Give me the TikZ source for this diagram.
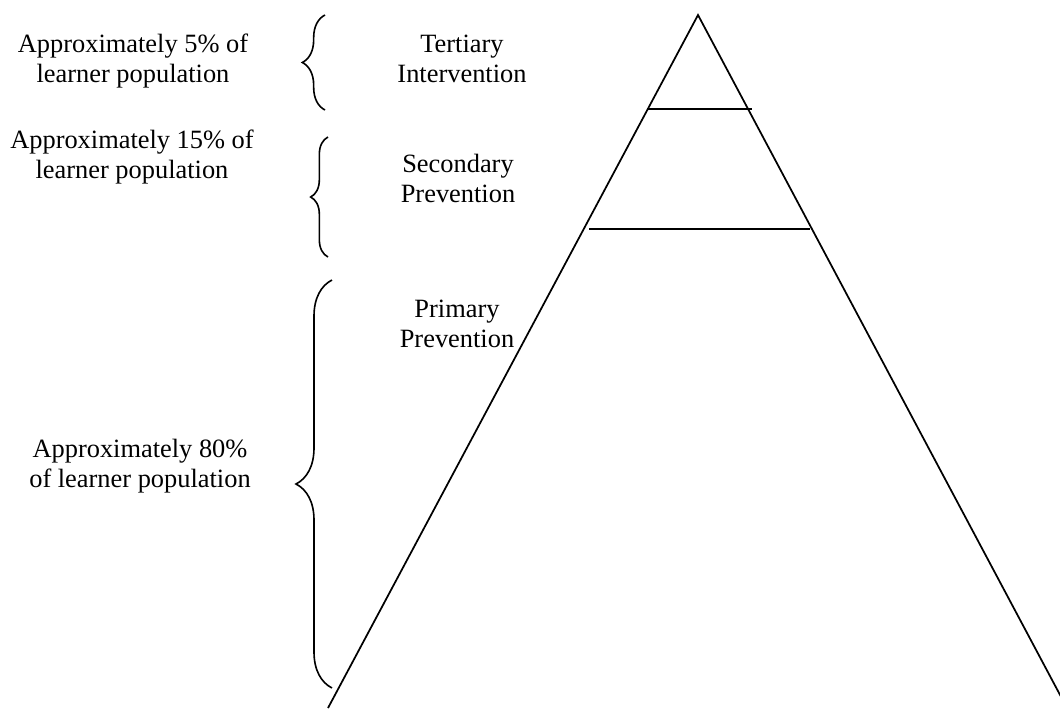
\documentclass[tikz,border=0pt]{standalone}
\usepackage{fontspec}
\setmainfont{Liberation Serif}
\usetikzlibrary{decorations.pathreplacing}

\begin{document}
\begin{tikzpicture}[
  x=0.75pt, y=-0.75pt,
  lbl/.style={align=center, inner sep=0pt, anchor=base,
              font=\fontsize{19.8}{22.5}\selectfont},
  edge/.style={line width=1.3pt, line join=miter},
  lvl/.style={line width=1.3pt},
  brc/.style={line width=1.2pt, decorate,
              decoration={brace, amplitude=#1}},
]
\useasboundingbox (0,0) rectangle (1060,708);

%% Pyramid sides and level lines
\coordinate (apex) at (698,15);
\coordinate (baseL) at (328,708);
\coordinate (baseR) at (1067,708);
\draw[edge] (baseL) -- (apex) -- (baseR);
\draw[lvl] (648,109) -- (752,109);
\draw[lvl] (589,229) -- (810,229);

%% Level names (anchored on the last line)
\node[lbl] (tert) at (462,82)  {Tertiary\\Intervention};
\node[lbl] (sec)  at (458,202) {Secondary\\Prevention};
\node[lbl] (prim) at (457,347) {Primary\\Prevention};

%% Population shares
\node[lbl] (pct5)  at (133,82)  {Approximately 5\% of\\learner population};
\node[lbl] (pct15) at (132,178) {Approximately 15\% of\\learner population};
\node[lbl] (pct80) at (140,487) {Approximately 80\%\\of learner population};

%% Braces
\coordinate (b1s) at (325,110);  \coordinate (b1e) at (325,15);
\coordinate (b2s) at (328,257);  \coordinate (b2e) at (328,137);
\coordinate (b3s) at (332,688);  \coordinate (b3e) at (332,280);
\draw[brc=17pt] (b1s) -- (b1e);
\draw[brc=13pt] (b2s) -- (b2e);
\draw[brc=27pt] (b3s) -- (b3e);

\end{tikzpicture}
\end{document}
